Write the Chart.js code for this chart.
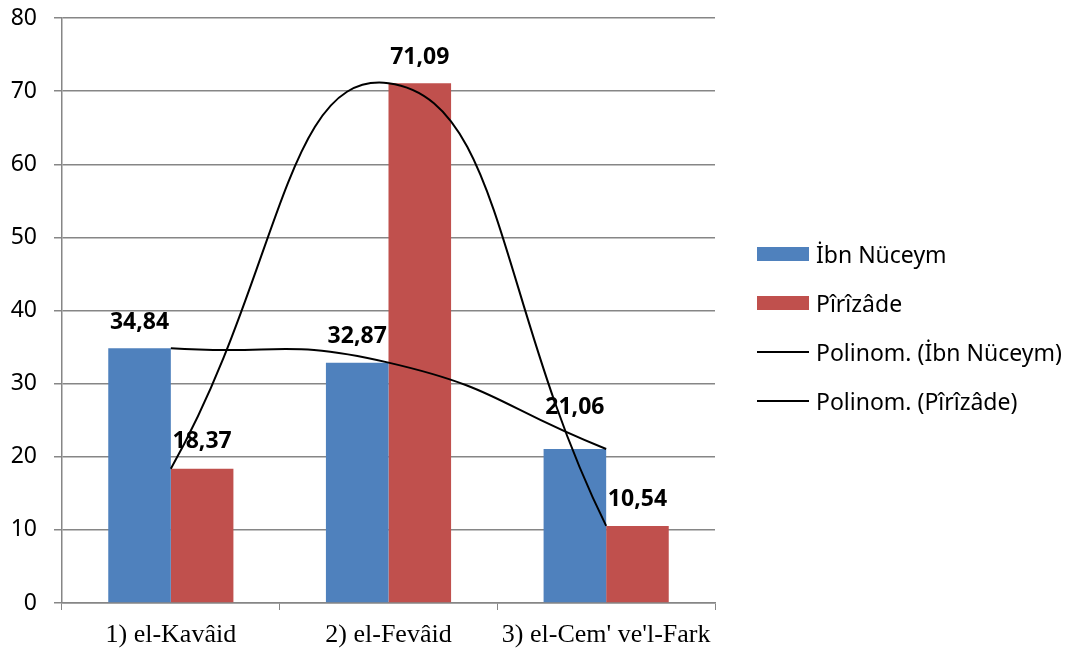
<!DOCTYPE html>
<html>
<head>
<meta charset="utf-8">
<script src="https://cdn.jsdelivr.net/npm/chart.js@4.4.1/dist/chart.umd.min.js"></script>
<style>
  html, body { margin: 0; padding: 0; background: #fff; }
  #wrap { width: 1073px; height: 652px; position: relative; }
  #legend {
    position: absolute; left: 757px; top: 229px;
    font-family: "Noto Sans", sans-serif; font-size: 23px; color: #000;
  }
  #legend .item { display: flex; align-items: center; height: 49px; white-space: nowrap; }
  #legend .mark { width: 52px; margin-right: 7px; }
</style>
</head>
<body>
<div id="wrap">
  <canvas id="chart"></canvas>
  <div id="legend"></div>
</div>
<script>
const categories = ['1) el-Kavâid', '2) el-Fevâid', "3) el-Cem' ve'l-Fark"];
const ibnNuceym = [34.84, 32.87, 21.06];
const pirizade = [18.37, 71.09, 10.54];
const yMin = 0;
const yMax = 80;
const yStep = 10;

const gridColor = '#868686';

// bold value labels above the bars
const valueLabels = {
  id: 'valueLabels',
  afterDatasetsDraw(chart, args, opts) {
    const ctx = chart.ctx;
    ctx.save();
    ctx.font = 'bold 23px "Noto Sans"';
    ctx.fillStyle = '#000';
    ctx.textAlign = 'center';
    ctx.textBaseline = 'middle';
    chart.data.datasets.forEach((ds, di) => {
      if (ds.type !== 'bar') return;
      const meta = chart.getDatasetMeta(di);
      meta.data.forEach((bar, i) => {
        const lift = (opts.lift[di] && opts.lift[di][i]) || 26;
        const txt = ds.data[i].toFixed(2).replace('.', ',');
        ctx.fillText(txt, bar.x, bar.y - lift);
      });
    });
    ctx.restore();
  }
};

const chart = new Chart(document.getElementById('chart'), {
  data: {
    labels: categories,
    datasets: [
      {
        type: 'bar',
        label: 'İbn Nüceym',
        data: ibnNuceym,
        backgroundColor: '#4F81BD',
        barPercentage: 1,
        categoryPercentage: 0.575
      },
      {
        type: 'bar',
        label: 'Pîrîzâde',
        data: pirizade,
        backgroundColor: '#C0504D',
        barPercentage: 1,
        categoryPercentage: 0.575
      },
      {
        type: 'line',
        label: 'Polinom. (İbn Nüceym)',
        data: ibnNuceym,
        borderColor: '#000',
        borderWidth: 2,
        pointRadius: 0,
        tension: 0.5,
        fill: false,
        order: -1
      },
      {
        type: 'line',
        label: 'Polinom. (Pîrîzâde)',
        data: pirizade,
        borderColor: '#000',
        borderWidth: 2,
        pointRadius: 0,
        tension: 0.5,
        fill: false,
        order: -1
      }
    ]
  },
  options: {
    responsive: true,
    maintainAspectRatio: false,
    animation: false,
    layout: {
      padding: { left: 0, right: 358, top: 18, bottom: 0 }
    },
    scales: {
      x: {
        offset: true,
        afterFit: s => { s.height = 49; },
        grid: {
          offset: true,
          drawOnChartArea: false,
          drawTicks: true,
          tickLength: 7,
          color: gridColor
        },
        border: { color: gridColor, width: 1.5 },
        ticks: {
          color: '#000',
          font: { family: '"Liberation Serif"', size: 26 },
          maxRotation: 0,
          autoSkip: false,
          padding: 10
        }
      },
      y: {
        min: yMin,
        max: yMax,
        afterFit: s => { s.width = 62; s.paddingTop = 0; s.paddingBottom = 0; },
        ticks: {
          stepSize: yStep,
          color: '#000',
          font: { family: '"Noto Sans"', size: 23 },
          padding: 17
        },
        grid: {
          color: gridColor,
          lineWidth: 1.5,
          tickLength: 8
        },
        border: { color: gridColor, width: 1.5 }
      }
    },
    plugins: {
      legend: { display: false },
      tooltip: { enabled: false },
      valueLabels: {
        lift: [[26, 26, 42], [27, 26, 26]]
      }
    }
  },
  plugins: [valueLabels]
});

// html legend built from the datasets
const legendEl = document.getElementById('legend');
chart.data.datasets.forEach(ds => {
  const row = document.createElement('div');
  row.className = 'item';
  const mark = document.createElement('span');
  mark.className = 'mark';
  if (ds.type === 'line') {
    mark.style.height = '0';
    mark.style.borderTop = ds.borderWidth + 'px solid ' + ds.borderColor;
  } else {
    mark.style.height = '14px';
    mark.style.background = ds.backgroundColor;
  }
  const txt = document.createElement('span');
  txt.textContent = ds.label;
  row.appendChild(mark);
  row.appendChild(txt);
  legendEl.appendChild(row);
});
</script>
</body>
</html>
